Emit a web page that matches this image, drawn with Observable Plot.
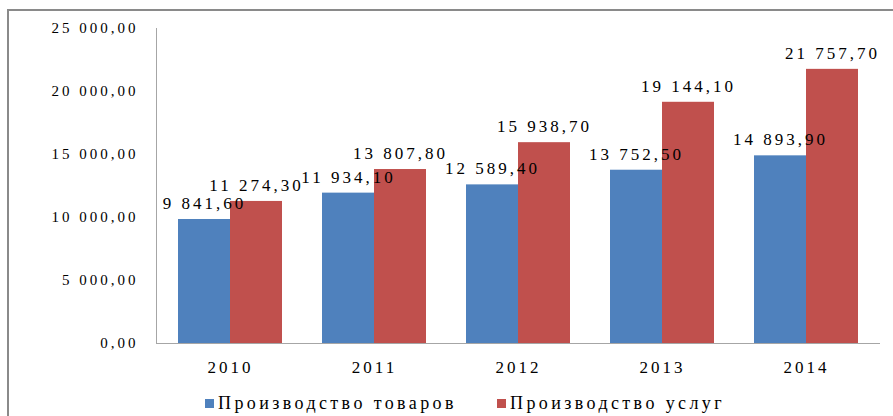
<!DOCTYPE html>
<html>
<head>
<meta charset="utf-8">
<script src="https://cdn.jsdelivr.net/npm/d3@7"></script>
<script src="https://cdn.jsdelivr.net/npm/@observablehq/plot@0.6"></script>
<style>
  html, body { margin: 0; padding: 0; background: #fff; }
  #wrap { position: relative; width: 893px; height: 416px; overflow: hidden; }
  #frame { position: absolute; left: 7px; top: 9px; width: 920px; height: 430px;
           border-left: 2px solid #8a8a8a; border-top: 2px solid #8a8a8a; }
  #chart { position: absolute; left: 0; top: 0; }
  #chart svg text { font-family: "Liberation Serif", "Times New Roman", serif; letter-spacing: 3px; fill: #000; }
  #legend { position: absolute; left: 0; top: 386px; width: 893px; height: 30px;
            font-family: "Liberation Serif", "Times New Roman", serif; font-size: 18px; letter-spacing: 3.4px; color: #000; }
  .item { position: absolute; top: 7px; display: flex; align-items: center; }
  .sw { width: 9px; height: 9px; margin-right: 4px; }
</style>
</head>
<body>
<div id="wrap">
  <div id="frame"></div>
  <div id="chart"></div>
  <div id="legend"></div>
</div>
<script>
const years = ["2010", "2011", "2012", "2013", "2014"];
const seriesNames = ["Производство товаров", "Производство услуг"];
const goods = [9841.6, 11934.1, 12589.4, 13752.5, 14893.9];
const services = [11274.3, 13807.8, 15938.7, 19144.1, 21757.7];
const yTicks = [0, 5000, 10000, 15000, 20000, 25000];
const colors = ["#4F81BD", "#C0504D"];

const fmt = d => d3.format(",.2f")(d).replace(/,/g, " ").replace(".", ",");

const goodsData = years.map((y, i) => ({year: y, value: goods[i]}));
const servData = years.map((y, i) => ({year: y, value: services[i]}));

const chart = Plot.plot({
  width: 893,
  height: 386,
  marginLeft: 156,
  marginRight: 13,
  marginTop: 28,
  marginBottom: 43,
  style: {fontSize: "15px", fontFamily: "Liberation Serif, serif", background: "transparent"},
  x: {domain: years, paddingInner: 0.64, paddingOuter: 0.32, align: 0.5, label: null, tickSize: 0, tickPadding: 17},
  y: {domain: [0, 25000], ticks: yTicks, tickFormat: fmt, label: null, tickSize: 0, tickPadding: 18, line: true},
  marks: [
    Plot.barY(goodsData, {x: "year", y: "value", fill: colors[0], dx: -26}),
    Plot.barY(servData, {x: "year", y: "value", fill: colors[1], dx: 26}),
    Plot.ruleY([0], {stroke: "#a6a6a6"}),
    Plot.text(goodsData, {x: "year", y: "value", text: d => fmt(d.value), dx: -26, dy: -16, fontSize: 17}),
    Plot.text(servData, {x: "year", y: "value", text: d => fmt(d.value), dx: 26, dy: -16, fontSize: 17})
  ]
});
document.getElementById("chart").appendChild(chart);

// style the axis lines gray
chart.querySelectorAll("path, line").forEach(el => {
  if (el.getAttribute("stroke") === "currentColor") el.setAttribute("stroke", "#a6a6a6");
});
chart.querySelectorAll("g[aria-label^='x-axis'] text, g[aria-label='x-axis'] text").forEach(t => t.style.fontSize = "17px");

const legend = document.getElementById("legend");
const lefts = [205, 497];
seriesNames.forEach((name, i) => {
  const it = document.createElement("div");
  it.className = "item";
  it.style.left = lefts[i] + "px";
  const sw = document.createElement("div");
  sw.className = "sw";
  sw.style.background = colors[i];
  const tx = document.createElement("span");
  tx.textContent = name;
  it.appendChild(sw);
  it.appendChild(tx);
  legend.appendChild(it);
});
</script>
</body>
</html>
